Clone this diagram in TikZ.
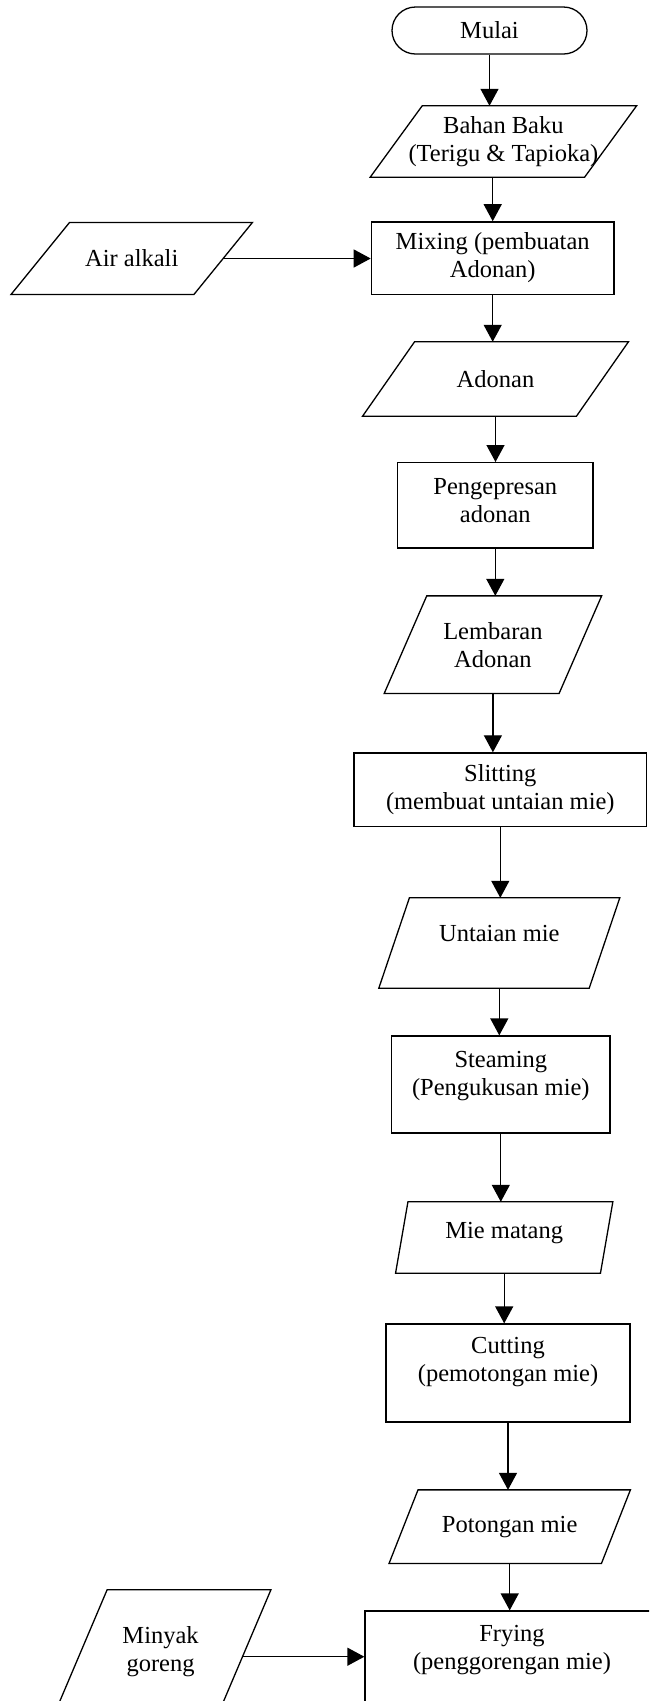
\documentclass[tikz,border=0pt]{standalone}
\usepackage{fontspec}
\setmainfont{Liberation Serif}
\usetikzlibrary{arrows.meta,shapes.misc}
\tikzset{
  every node/.style={font=\fontsize{24.5}{28}\selectfont, align=center, inner sep=0pt},
  edge/.style={line width=1.3pt},
  proc/.style={draw, rectangle, edge},
  term/.style={draw, rounded rectangle, edge},
  iobox/.style={rectangle},
  flow/.style={edge, -{Triangle[width=18pt,length=17pt]}},
}
% parallelogram (data) outline around an iobox node; #2 = half of the horizontal slant
\newcommand\iolines[2]{%
  \draw[edge, line join=miter]
    ([xshift=-#2pt]#1.south west) -- ([xshift=-#2pt]#1.south east) --
    ([xshift=#2pt]#1.north east) -- ([xshift=#2pt]#1.north west) -- cycle;}
\begin{document}
\begin{tikzpicture}[x=1pt,y=-1pt]
  \useasboundingbox (0,0) rectangle (649,1701);
  \clip (0,0) rectangle (649,1701);

  % main column
  \node[term, minimum width=195pt, minimum height=47pt] (start) at (489.5,30.5) {Mulai};
  \node[iobox, minimum width=214pt, minimum height=71pt] (bahan) at (503.4,141.5)
    {Bahan Baku\\(Terigu \& Tapioka)};
  \node[proc, minimum width=242.7pt, minimum height=72.3pt] (mix) at (492.7,258)
    {Mixing (pembuatan\\Adonan)};
  \node[iobox, minimum width=213.5pt, minimum height=74pt] (adonan) at (495.5,379) {Adonan};
  \node[proc, minimum width=195.3pt, minimum height=85.3pt,
        label={[yshift=4.5pt]center:{Pengepresan\\adonan}}] (press) at (495.3,505.3) {};
  \node[iobox, minimum width=174.5pt, minimum height=97.3pt] (lembar) at (492.9,644.7)
    {Lembaran\\Adonan};
  \node[proc, minimum width=292.7pt, minimum height=73.7pt] (slit) at (500.3,789.8)
    {Slitting\\(membuat untaian mie)};
  \node[iobox, minimum width=210pt, minimum height=90pt,
        label={[yshift=10pt]center:{Untaian mie}}] (untai) at (499.3,943) {};
  \node[proc, minimum width=218.3pt, minimum height=97pt,
        label={[yshift=8.5pt]center:{Steaming\\(Pengukusan mie)}}] (steam) at (500.8,1084.5) {};
  \node[iobox, minimum width=204.5pt, minimum height=71pt,
        label={[yshift=4.5pt]center:{Mie matang}}] (matang) at (504.2,1237.5) {};
  \node[proc, minimum width=244pt, minimum height=98pt,
        label={[yshift=11pt]center:{Cutting\\(pemotongan mie)}}] (cut) at (508,1373) {};
  \node[iobox, minimum width=212pt, minimum height=73.3pt] (potong) at (509.7,1526.7) {Potongan mie};
  \node[proc, minimum width=294pt, minimum height=100pt,
        label={[yshift=11pt]center:{Frying\\(penggorengan mie)}}] (fry) at (512,1661) {};

  % side inputs
  \node[iobox, minimum width=182.5pt, minimum height=71.6pt] (air) at (131.7,258.5) {Air alkali};
  \node[iobox, minimum width=163.4pt, minimum height=133.4pt,
        label={[yshift=5pt]center:{Minyak\\goreng}}] (minyak) at (160.6,1656.7) {};

  % data shapes
  \iolines{bahan}{26}
  \iolines{air}{29.25}
  \iolines{adonan}{26}
  \iolines{lembar}{21.3}
  \iolines{untai}{15.3}
  \iolines{matang}{6.2}
  \iolines{potong}{14.5}
  \iolines{minyak}{28.4}

  % flow
  \draw[flow] (start.south) -- (start.south |- bahan.north);
  \draw[flow] (mix.north |- bahan.south) -- (mix.north);
  \draw[flow] (air.east) -- (air.east -| mix.west);
  \draw[flow] (mix.south) -- (mix.south |- adonan.north);
  \draw[flow] (adonan.south) -- (adonan.south |- press.north);
  \draw[flow] (press.south) -- (press.south |- lembar.north);
  \draw[flow] (lembar.south) -- (lembar.south |- slit.north);
  \draw[flow] (slit.south) -- (slit.south |- untai.north);
  \draw[flow] (untai.south) -- (untai.south |- steam.north);
  \draw[flow] (steam.south) -- (steam.south |- matang.north);
  \draw[flow] (matang.south) -- (matang.south |- cut.north);
  \draw[flow] (cut.south) -- (cut.south |- potong.north);
  \draw[flow] (potong.south) -- (potong.south |- fry.north);
  \draw[flow] (minyak.east) -- (minyak.east -| fry.west);
\end{tikzpicture}
\end{document}
